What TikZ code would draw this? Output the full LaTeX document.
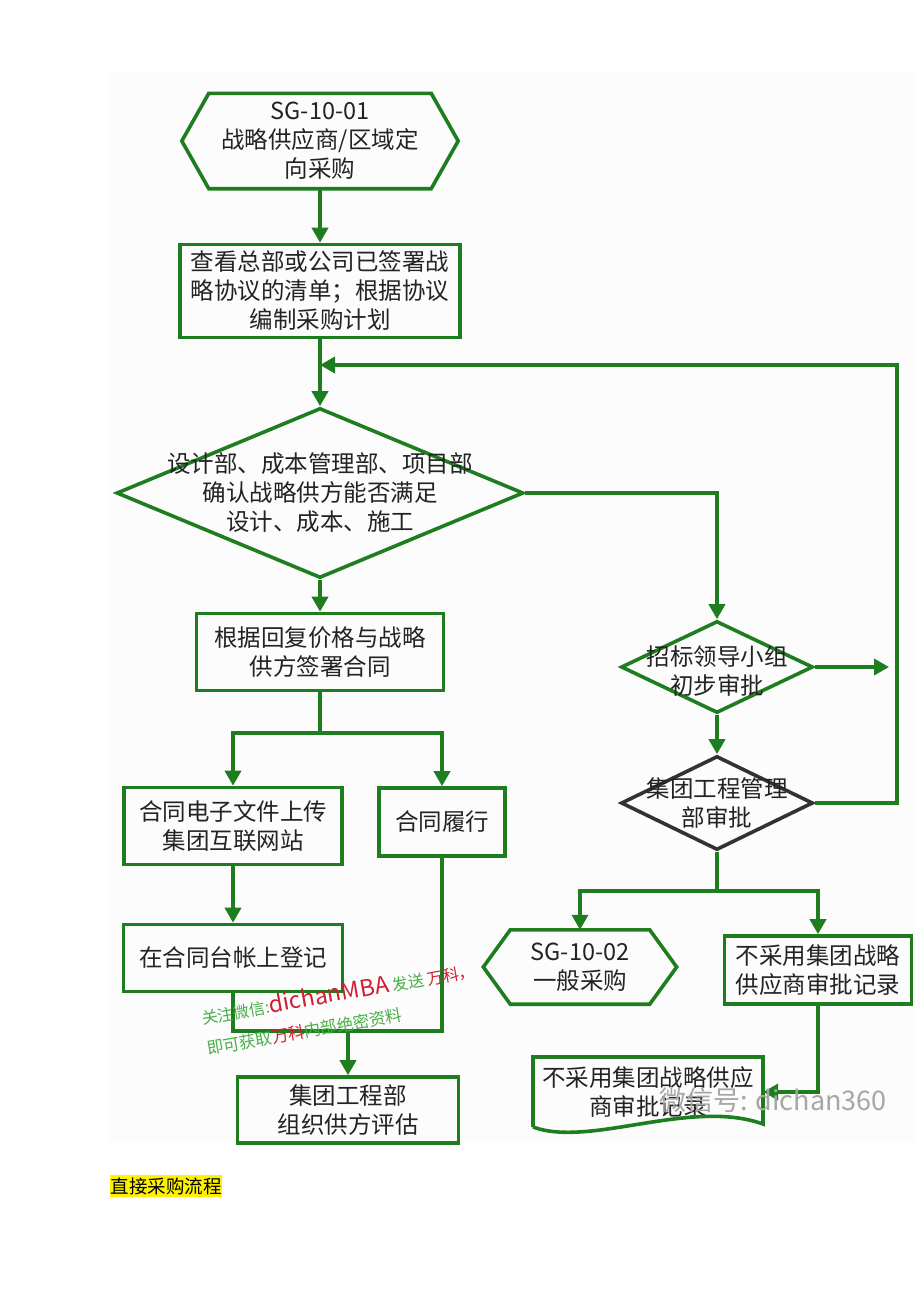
\documentclass[tikz,border=0pt]{standalone}
\usepackage{fontspec}
\setmainfont{Noto Sans CJK SC}
\usepackage{xcolor}
\usetikzlibrary{positioning,arrows.meta,shapes.geometric}
\definecolor{fcgreen}{RGB}{30,125,30}
\definecolor{fcdark}{RGB}{50,50,50}
\definecolor{fctext}{RGB}{35,35,35}
\definecolor{wmgreen}{RGB}{70,175,70}
\definecolor{wmred}{RGB}{205,30,50}
\tikzset{
gline/.style={draw=fcgreen, line width=3.6pt},
arr/.style={gline, -{Triangle[length=15pt,width=16pt]}},
txt/.style={inner sep=0pt, align=center, text=fctext, font=\fontsize{23.5}{29}\selectfont},
box/.style={txt, rectangle, gline},
dia/.style={diamond, gline, inner sep=0pt},
wm/.style={inner sep=0pt, anchor=base west, rotate=10, text=wmgreen, font=\fontsize{16}{18}\selectfont}
}
\newcommand{\hexout}[2]{\draw[gline] (#1.west) -- ([xshift=#2]#1.north west) -- ([xshift=-#2]#1.north east) -- (#1.east) -- ([xshift=-#2]#1.south east) -- ([xshift=#2]#1.south west) -- cycle;}

\begin{document}
\begin{tikzpicture}[x=1pt,y=-1pt]
\fill[white] (0,0) rectangle (920,1302);
\useasboundingbox (0,0) rectangle (920,1302);
\fill[black!1] (108,72) rectangle (915,1142);

\node[txt, minimum width=276pt, minimum height=95pt] (h1) at (320,141) {SG-10-01\\战略供应商/区域定\\向采购};
\hexout{h1}{27pt}
\node[box, minimum width=280pt, minimum height=93pt] (b1) at (320,291) {查看总部或公司已签署战\\略协议的清单；根据协议\\编制采购计划};
\node[dia, minimum width=407pt, minimum height=170pt] (d1) at (320,493) {};
\node[txt] (d1t) at (d1) {设计部、成本管理部、项目部\\确认战略供方能否满足\\设计、成本、施工};
\node[box, minimum width=247pt, minimum height=77pt] (b2) at (320,652) {根据回复价格与战略\\供方签署合同};
\node[box, minimum width=218pt, minimum height=77pt] (b3) at (233,826) {合同电子文件上传\\集团互联网站};
\node[box, minimum width=126pt, minimum height=68pt] (b4) at (442,822) {合同履行};
\node[box, minimum width=219pt, minimum height=67pt] (b5) at (233,958) {在合同台帐上登记};
\node[box, minimum width=221pt, minimum height=66pt] (b6) at (348,1110) {集团工程部\\组织供方评估};

\node[dia, minimum width=192pt, minimum height=92pt] (d2) at (717,667) {};
\node[txt] (d2t) at (717,671) {招标领导小组\\初步审批};
\node[dia, draw=fcdark, minimum width=192pt, minimum height=94pt] (d3) at (717,803) {};
\node[txt] (d3t) at (d3) {集团工程管理\\部审批};
\node[txt, minimum width=193pt, minimum height=74pt] (h2) at (580,967) {SG-10-02\\一般采购};
\hexout{h2}{27pt}
\node[box, minimum width=187pt, minimum height=68pt] (b7) at (818,970) {不采用集团战略\\供应商审批记录};
\node[txt, minimum width=230pt, minimum height=70pt] (doc) at (648,1092) {不采用集团战略供应\\商审批记录};
\draw[gline] (533,1127) -- (533,1057) -- (763,1057) -- (763,1124)
  .. controls (690,1098) and (590,1148) .. (533,1127);

\coordinate (fb) at (320,365);
\coordinate (rt) at (897,365);
\coordinate (d2o) at (889,667);
\coordinate (s1) at (320,733);
\coordinate (m1) at (348,1031);
\coordinate (s2) at (717,891);

\draw[arr] (h1) -- (b1);
\draw[arr] (b1) -- (d1);
\draw[arr] (d3.east) -| (rt) -- (fb);
\draw[arr] (d1) -- (b2);
\draw[arr] (d1.east) -| (d2.north);
\draw[gline] (b2) -- (s1);
\draw[arr] (s1) -| (b3.north);
\draw[arr] (s1) -| (b4.north);
\draw[arr] (b3) -- (b5);
\draw[gline] (b5.south) |- (m1);
\draw[gline] (b4.south) |- (m1);
\draw[arr] (m1) -- (b6);
\draw[arr] (d2.east) -- (d2o);
\draw[arr] (d2) -- (d3);
\draw[gline] (d3) -- (s2);
\draw[arr] (s2) -| (h2.north);
\draw[arr] (s2) -| (b7.north);
\draw[arr] (b7.south) |- (doc.east);

\node[inner sep=0pt, text=black!35, font=\fontsize{27}{30}\selectfont] (wx) at (773,1100) {微信号: dichan360};
\node[wm] (wm1) at (203,1025) {关注微信:\textcolor{wmred}{\fontsize{23}{24}\selectfont dichanMBA} 发送 \textcolor{wmred}{万科，}};
\node[wm, font=\fontsize{16.5}{18}\selectfont] (wm2) at (208,1055) {即可获取\textcolor{wmred}{万科}内部绝密资料};

\node[fill=yellow, inner xsep=0.5pt, inner ysep=2pt, anchor=west, text=black, font=\fontsize{18.5}{20}\selectfont] (cap) at (110,1186) {直接采购流程};
\end{tikzpicture}
\end{document}
